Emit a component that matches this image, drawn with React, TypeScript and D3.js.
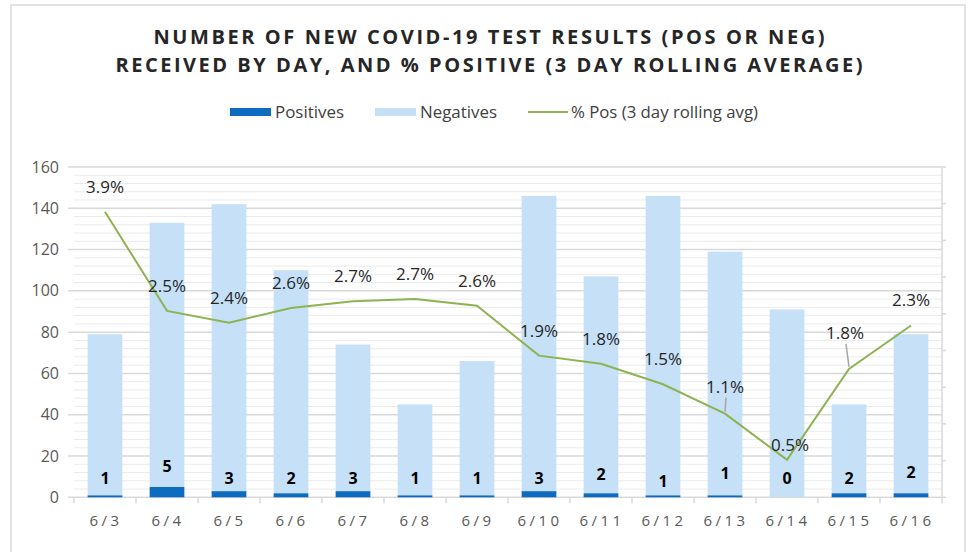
import React from 'react';
import * as d3 from 'd3';

const days = ['6/3', '6/4', '6/5', '6/6', '6/7', '6/8', '6/9', '6/10', '6/11', '6/12', '6/13', '6/14', '6/15', '6/16'];
const positives = [1, 5, 3, 2, 3, 1, 1, 3, 2, 1, 1, 0, 2, 2];
const negatives = [78, 128, 139, 108, 71, 44, 65, 143, 105, 145, 118, 91, 43, 77];
const pctPositive = [3.89, 2.54, 2.38, 2.58, 2.67, 2.7, 2.61, 1.93, 1.82, 1.54, 1.14, 0.51, 1.75, 2.34];
const yTicks = [0, 20, 40, 60, 80, 100, 120, 140, 160];
const titleLines = [
  'NUMBER OF NEW COVID-19 TEST RESULTS (POS OR NEG)',
  'RECEIVED BY DAY, AND % POSITIVE (3 DAY ROLLING AVERAGE)',
];

// label nudges, as placed by hand in the original
const pctLabelNudge: Record<number, [number, number, boolean]> = {
  10: [0, -27, true],
  11: [3, -15, false],
  12: [-4, -36, true],
};
const countLabelNudge: Record<number, number> = { 1: -12, 8: -4, 9: 3, 10: -5, 13: -6 };

const W = 973;
const H = 552;
const left = 74;
const right = 942;
const top = 167;
const bottom = 497.3;

const fontFam = "'Open Sans', 'Noto Sans', sans-serif";

export default function App() {
  const x = d3.scaleBand<string>().domain(days).range([left, right]).paddingInner(0.44).paddingOuter(0.22);
  const y = d3.scaleLinear().domain([0, 160]).range([bottom, top]);
  const y2 = d3.scaleLinear().domain([0, 4.5]).range([bottom, top]);
  const step = (right - left) / days.length;
  const cx = (d: string) => (x(d) ?? 0) + x.bandwidth() / 2;

  const rows = days.map((d, i) => ({ day: d, pos: positives[i], neg: negatives[i] }));
  const stack = d3.stack<{ day: string; pos: number; neg: number }>().keys(['pos', 'neg'])(rows as any);

  const minorTicks = d3.range(4, 160, 4).filter((v) => v % 20 !== 0);
  const rightTicks = d3.range(0, 4.51, 0.5);

  const line = d3
    .line<number>()
    .x((_, i) => cx(days[i]))
    .y((v) => y2(v));

  return (
    <svg width={W} height={H} style={{ position: 'absolute', left: 0, top: 0, background: '#fff' }}>
      <rect x={0} y={0} width={W} height={H} fill="#fff" />
      <rect x={11} y={5} width={954} height={H + 10} fill="none" stroke="#d9d9d9" strokeWidth={1.5} />

      {titleLines.map((t, i) => (
        <text
          key={t}
          x={489}
          y={44 + i * 28}
          textAnchor="middle"
          fontFamily={fontFam}
          fontWeight={700}
          fontSize={20}
          fill="#262626"
          textLength={i === 0 ? 671 : 747}
          lengthAdjust="spacing"
        >
          {t}
        </text>
      ))}

      {/* legend */}
      <g fontFamily={fontFam} fontSize={16} fill="#404040">
        <rect x={230} y={108} width={41} height={8} fill="#0e6cc0" />
        <text x={275} y={118} textLength={69} lengthAdjust="spacingAndGlyphs">Positives</text>
        <rect x={375} y={108} width={41} height={8} fill="#c5e0f7" />
        <text x={420} y={118} textLength={77} lengthAdjust="spacingAndGlyphs">Negatives</text>
        <line x1={528} x2={568} y1={112} y2={112} stroke="#8db352" strokeWidth={2} />
        <text x={571} y={118} textLength={187} lengthAdjust="spacingAndGlyphs">% Pos (3 day rolling avg)</text>
      </g>

      {/* grid */}
      {minorTicks.map((v) => (
        <line key={'m' + v} x1={left} x2={right} y1={y(v)} y2={y(v)} stroke="#ebebeb" strokeWidth={1} />
      ))}
      {yTicks.map((v) => (
        <line key={'g' + v} x1={left - 6} x2={right} y1={y(v)} y2={y(v)} stroke="#d9d9d9" strokeWidth={1.5} />
      ))}
      <line x1={right} x2={right} y1={top} y2={bottom} stroke="#d9d9d9" strokeWidth={1.5} />
      {rightTicks.map((v) => (
        <line key={'r' + v} x1={right} x2={right + 4} y1={y2(v)} y2={y2(v)} stroke="#d9d9d9" strokeWidth={1.5} />
      ))}
      {d3.range(days.length + 1).map((i) => (
        <line key={'xt' + i} x1={left + i * step} x2={left + i * step} y1={bottom} y2={bottom + 6} stroke="#d9d9d9" strokeWidth={1.5} />
      ))}

      {/* y labels */}
      {yTicks.map((v) => (
        <text key={'yl' + v} x={59} y={y(v)} dy="0.35em" textAnchor="end" fontFamily={fontFam} fontSize={16} fill="#595959">
          {v}
        </text>
      ))}

      {/* x labels */}
      {days.map((d) => (
        <text key={'xl' + d} x={cx(d) + 1} y={526} textAnchor="middle" fontFamily={fontFam} fontSize={15} letterSpacing={3.5} fill="#595959">
          {d}
        </text>
      ))}

      {/* bars */}
      {stack.map((layer) =>
        layer.map((seg, i) => (
          <rect
            key={layer.key + i}
            x={x(days[i])}
            width={x.bandwidth()}
            y={y(seg[1])}
            height={Math.max(0, y(seg[0]) - y(seg[1]))}
            fill={layer.key === 'pos' ? '#0e6cc0' : '#c5e0f7'}
          />
        ))
      )}

      {/* count labels */}
      {positives.map((v, i) => (
        <text
          key={'c' + i}
          x={cx(days[i])}
          y={y(0) - 19 + (countLabelNudge[i] ?? 0)}
          dy="0.35em"
          textAnchor="middle"
          fontFamily={fontFam}
          fontWeight={700}
          fontSize={16}
          fill="#000"
        >
          {v}
        </text>
      ))}

      {/* % line */}
      <path d={line(pctPositive) ?? ''} fill="none" stroke="#8db352" strokeWidth={2} />

      {pctPositive.map((v, i) => {
        const [ndx, ndy, leader] = pctLabelNudge[i] ?? [0, -25, false];
        const px = cx(days[i]);
        const py = y2(v);
        const lx = px + ndx;
        const ly = py + ndy;
        return (
          <g key={'p' + i}>
            {leader && <line x1={lx + 1} y1={ly + 11} x2={px} y2={py - 2} stroke="#a6a6a6" strokeWidth={1.5} />}
            <text x={lx} y={ly} dy="0.35em" textAnchor="middle" fontFamily={fontFam} fontSize={17} fill="#262626">
              {v.toFixed(1) + '%'}
            </text>
          </g>
        );
      })}
    </svg>
  );
}
